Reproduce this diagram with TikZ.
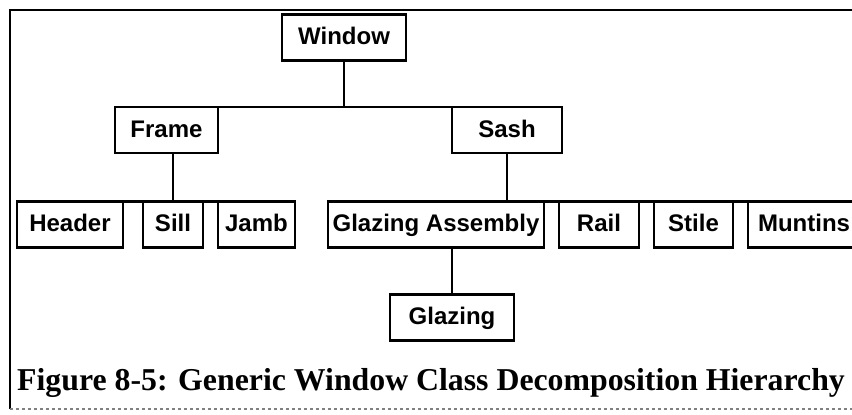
\documentclass[tikz,border=0pt]{standalone}
\usepackage{fontspec}
\setmainfont{Liberation Serif}
\setsansfont{Liberation Sans}
\usetikzlibrary{positioning}

\begin{document}
\begin{tikzpicture}[
    x=1pt, y=-1pt,
    node distance=15pt,
    box/.style={draw, line width=2.2pt, inner sep=0pt, outer sep=0pt, minimum height=46pt,
      text height=17pt, text depth=3pt, font=\sffamily\bfseries\fontsize{24}{28}\selectfont},
    link/.style={line width=2.2pt},
    caption/.style={anchor=base west, inner sep=0pt, font=\bfseries\fontsize{31.8}{36}\selectfont}
]
\clip (0,0) rectangle (852,415);
\fill[white] (0,0) rectangle (852,415);

% frame of the figure
\draw[line width=1.6pt] (852,10) -- (10,10) -- (10,409);
\draw[line width=1.2pt, gray, dashed] (10,409) -- (852,409);

% top levels
\node[box, minimum width=124pt] (window) at (344,37.5) {Window};
\node[box, minimum width=103pt] (frame) at (166.5,130) {Frame};
\node[box, minimum width=110pt] (sash) at (507,130) {Sash};

% parts
\node[box, minimum width=106pt] (header) at (70,224.5) {Header};
\node[box, minimum width=60pt, right=20pt of header] (sill) {Sill};
\node[box, minimum width=77pt, right=of sill] (jamb) {Jamb};
\node[box, minimum width=216pt, right=33pt of jamb] (glazingasm) {Glazing Assembly};
\node[box, minimum width=80pt, right=of glazingasm] (rail) {Rail};
\node[box, minimum width=79pt, right=of rail] (stile) {Stile};
\node[box, minimum width=112pt, right=of stile] (muntins) {Muntins};
\node[box, minimum width=124pt, below=47pt of glazingasm.south west, anchor=north west, xshift=62pt] (glazing) {Glazing};

\node[caption] (caption) at (17,390) {Figure 8-5: Generic Window Class Decomposition Hierarchy};

\draw[link] (window.south) -- (window.south |- frame.north);
\draw[link] (frame.north west) -- (sash.north east);
\draw[link] (sill.north |- frame.south) -- (sill.north);
\draw[link] (header.north west) -- (jamb.north east);
\draw[link] (sash.south) -- (sash.south |- glazingasm.north);
\draw[link] (glazingasm.north west) -- (muntins.north east);
\draw[link] (glazing.north |- glazingasm.south) -- (glazing.north);
\end{tikzpicture}
\end{document}
